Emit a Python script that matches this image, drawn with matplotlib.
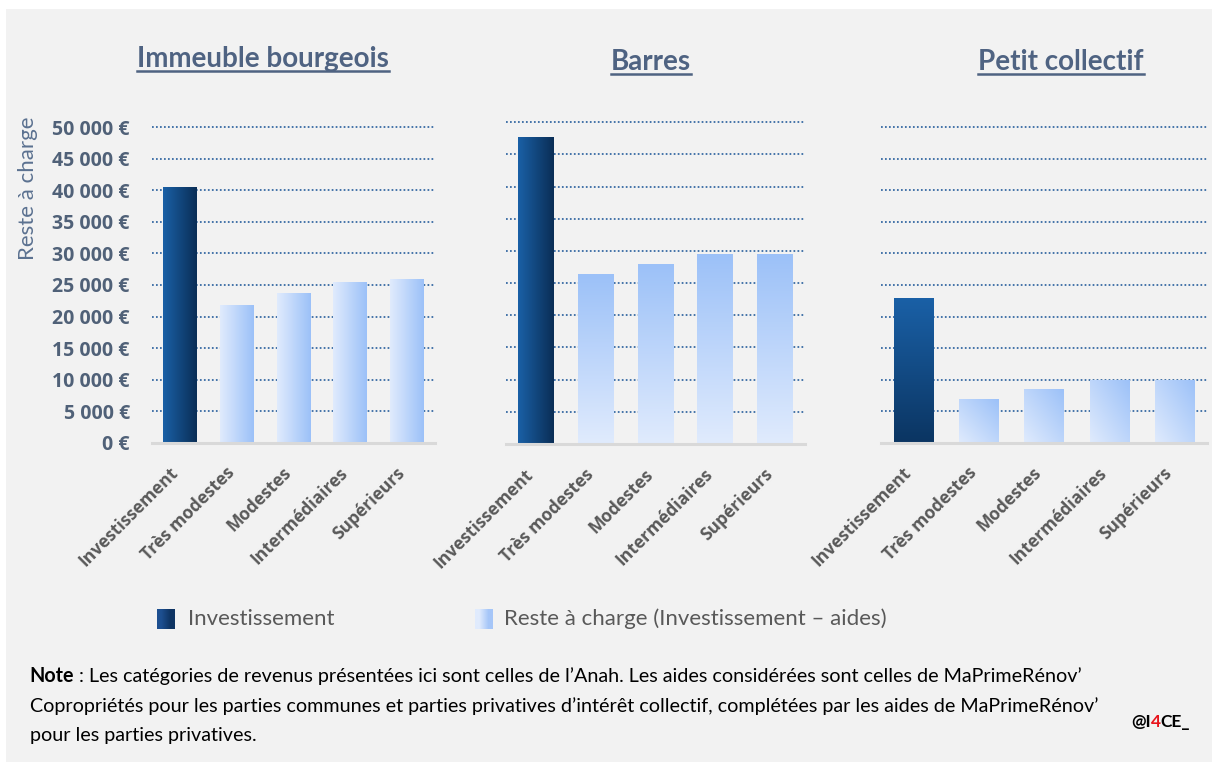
import numpy as np
import matplotlib
matplotlib.use("Agg")
import matplotlib.pyplot as plt
from matplotlib.patches import Rectangle
from matplotlib.lines import Line2D
from matplotlib.colors import to_rgb
from matplotlib.transforms import ScaledTranslation

# Data
categories = ["Investissement", "Très modestes", "Modestes", "Intermédiaires", "Supérieurs"]
panel_titles = ["Immeuble bourgeois", "Barres", "Petit collectif"]
bourgeois = [40600, 21900, 23700, 25400, 25900]
barres = [47700, 26400, 28000, 29500, 29500]
petit = [22900, 6900, 8500, 10000, 10000]
yticks = [0, 5000, 10000, 15000, 20000, 25000, 30000, 35000, 40000, 45000, 50000]
legend_labels = ["Investissement", "Reste à charge (Investissement – aides)"]
note_bold = "Note"
note_lines = [
    " : Les catégories de revenus présentées ici sont celles de l’Anah. Les aides considérées sont celles de MaPrimeRénov’",
    "Copropriétés pour les parties communes et parties privatives d’intérêt collectif, complétées par les aides de MaPrimeRénov’",
    "pour les parties privatives.",
]

plt.rcParams["font.family"] = ["Lato", "DejaVu Sans"]
BOLD_FONT = ["Open Sans", "DejaVu Sans"]

W, H = 1212, 762
fig = plt.figure(figsize=(W / 100, H / 100), dpi=100, facecolor="white")
fig.patches.append(Rectangle((6 / W, 0), 1, 1 - 9 / H, transform=fig.transFigure,
                             facecolor="#f2f2f2", edgecolor="none", zorder=-10))

TITLE_C = "#4f6382"
TICK_C = "#506178"
XLAB_C = "#595959"
GRID_C = "#2f64a0"

DARK = ("#1a60a6", "#0a2e56")
LIGHT = ("#e0ebfd", "#9cc1f8")


def px_axes(x0, x1, ytop, ybot):
    return fig.add_axes([x0 / W, 1 - ybot / H, (x1 - x0) / W, (ybot - ytop) / H])


def gradient_fill(ax, bar, c1, c2, mode):
    x0, y0 = bar.get_x(), bar.get_y()
    w, h = bar.get_width(), bar.get_height()
    n = 64
    t = np.linspace(0, 1, n)
    if mode == "h":  # c1 left -> c2 right
        f = np.tile(t, (n, 1))
    elif mode == "v":  # c1 top -> c2 bottom (origin lower)
        f = np.tile((1 - t)[:, None], (1, n))
    else:  # diagonal: c1 bottom-left -> c2 top-right
        f = (np.tile(t, (n, 1)) + np.tile(t[:, None], (1, n))) / 2
    a, b = np.array(to_rgb(c1)), np.array(to_rgb(c2))
    img = a + (b - a) * f[..., None]
    im = ax.imshow(img, extent=(x0, x0 + w, y0, y0 + h), origin="lower",
                   aspect="auto", zorder=3, interpolation="bilinear")
    im.set_clip_path(bar)


# panel geometry in pixels: x0, x1, y at 52000, baseline
geoms = [
    (152, 435, 442.7 - 52 * 6.308, 442.7),
    (506, 805, 444 - 52 * 6.434, 444),
    (881, 1207, 442.7 - 52 * 6.308, 442.7),
]
series = [bourgeois, barres, petit]
modes = [("h", "h"), ("h", "v"), ("v", "d")]
title_x = [263, 651, 1061]
title_y = [67, 70, 70]

label_shift = ScaledTranslation(-5 / 100, -4 / 100, fig.dpi_scale_trans)

axes = []
for i, (g, vals, md) in enumerate(zip(geoms, series, modes)):
    ax = px_axes(*g)
    ax.set_facecolor("none")
    x = np.arange(len(categories))
    bars = ax.bar(x, vals, width=0.6, color="none", edgecolor="none", zorder=2)
    for j, b in enumerate(bars):
        if j == 0:
            if md[0] == "h":
                gradient_fill(ax, b, DARK[0], DARK[1], "h")
            else:
                gradient_fill(ax, b, DARK[0], "#0b3562", "v")
        else:
            if md[1] == "h":
                gradient_fill(ax, b, LIGHT[0], LIGHT[1], "h")
            elif md[1] == "v":
                gradient_fill(ax, b, LIGHT[1], LIGHT[0], "v")
            else:
                gradient_fill(ax, b, LIGHT[0], LIGHT[1], "d")
    ax.set_xlim(-0.5, len(categories) - 0.5)
    ax.set_ylim(0, 52000)
    for v in yticks[1:]:
        ax.axhline(v, color=GRID_C, lw=1.25, ls=(0, (1.0, 1.3)), zorder=1)
    ax.axhline(0, color="#d9d9d9", lw=2.2, zorder=4, clip_on=False)
    for s in ax.spines.values():
        s.set_visible(False)
    ax.set_xticks(x)
    ax.set_xticklabels(categories, rotation=45, ha="right", va="center",
                       rotation_mode="anchor", fontsize=12.5, fontweight="bold",
                       color=XLAB_C, family=BOLD_FONT)
    ax.tick_params(axis="x", length=0, pad=17)
    for lab in ax.get_xticklabels():
        lab.set_transform(lab.get_transform() + label_shift)
    ax.set_yticks(yticks)
    if i == 0:
        ax.set_yticklabels([f"{v:,.0f}".replace(",", " ") + " €" for v in yticks],
                           fontsize=14, fontweight="bold", color=TICK_C, family=BOLD_FONT)
        ax.tick_params(axis="y", length=0, pad=16)
    else:
        ax.tick_params(axis="y", length=0, labelleft=False)
    axes.append(ax)

fig.text(28 / W, 1 - 188 / H, "Reste à charge", rotation=90, ha="center", va="center",
         fontsize=16, color="#5b7190")

# titles with underline
renderer = fig.canvas.get_renderer()
for t, cx, ty in zip(panel_titles, title_x, title_y):
    txt = fig.text(cx / W, 1 - ty / H, t, ha="center", va="baseline",
                   fontsize=20, fontweight="bold", color=TITLE_C)
    bb = txt.get_window_extent(renderer)
    uy = 1 - (ty + 3.5) / H
    fig.lines.append(Line2D([bb.x0 / W, bb.x1 / W], [uy, uy], transform=fig.transFigure,
                            color=TITLE_C, lw=1.8))

# legend
def legend_square(x0, y0, c1, c2):
    lax = px_axes(x0, x0 + 18, y0, y0 + 20)
    lax.imshow(np.array([[to_rgb(c1), to_rgb(c2)]]), aspect="auto", interpolation="bilinear",
               extent=(0, 1, 0, 1))
    lax.axis("off")

legend_square(157, 609, "#1d4f90", "#0e3463")
legend_square(475, 609, "#e0ebfd", "#a6c6f8")
fig.text(188 / W, 1 - 619 / H, legend_labels[0], ha="left", va="center",
         fontsize=16, color=XLAB_C)
fig.text(504 / W, 1 - 619 / H, legend_labels[1], ha="left", va="center",
         fontsize=16, color=XLAB_C)

# note
note_y = [676, 706, 736]
NOTE_FS = 14.2
nb = fig.text(29 / W, 1 - note_y[0] / H, note_bold, ha="left", va="center",
              fontsize=NOTE_FS, fontweight="bold", color="black")
bx = nb.get_window_extent(renderer).x1
fig.text(bx / W, 1 - note_y[0] / H, note_lines[0], ha="left", va="center",
         fontsize=NOTE_FS, color="black")
for line, yy in zip(note_lines[1:], note_y[1:]):
    fig.text(30 / W, 1 - yy / H, line, ha="left", va="center", fontsize=NOTE_FS, color="black")

# watermark @I4CE_
xw = 1131
for part, col in [("@I", "black"), ("4", "#e8141c"), ("CE_", "black")]:
    tw = fig.text(xw / W, 1 - 722 / H, part, ha="left", va="center", fontsize=12.5,
                  fontweight="bold", color=col)
    xw = tw.get_window_extent(renderer).x1

fig.savefig("out.png", dpi=100, facecolor=fig.get_facecolor())
